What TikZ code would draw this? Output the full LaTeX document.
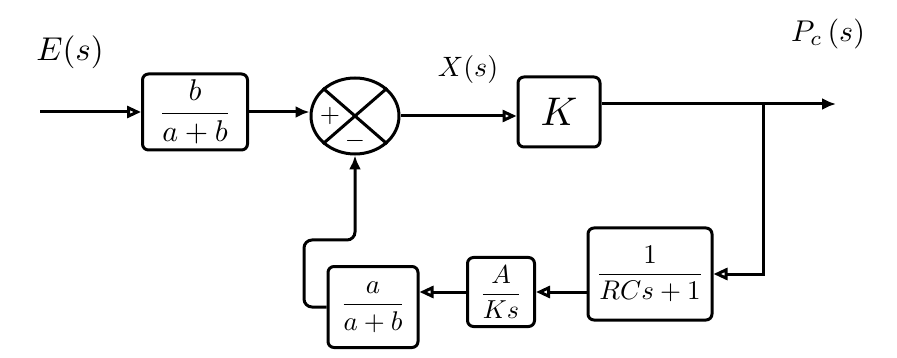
\documentclass[tikz,border=0pt]{standalone}
\usepackage{graphicx}
\usetikzlibrary{shapes.geometric,arrows.meta}
\newcommand{\bigtx}[2]{\scalebox{#1}{#2}}
\begin{document}
\begin{tikzpicture}[x=1pt,y=-1pt, line width=3pt,
  blockbox/.style={draw, rounded corners=6pt, inner sep=0pt},
  oarrow/.style={-{Triangle[open,length=14pt,width=12pt]}},
  farrow/.style={-{Latex[length=14pt,width=12pt]}}]
\useasboundingbox (0,0) rectangle (897,358);
% blocks
\node[blockbox, minimum width=105pt, minimum height=76pt] (g1) at (195,112) {\bigtx{3.0}{$\displaystyle\frac{b}{a+b}$}};
\node[draw, ellipse, minimum width=88pt, minimum height=76pt, inner sep=0pt] (sum) at (355,116) {};
\draw (sum.north west) -- (sum.south east);
\draw (sum.north east) -- (sum.south west);
\node (plus) at (330,116) {\bigtx{2.6}{$+$}};
\node (minus) at (355,141) {\bigtx{2.6}{$-$}};
\node[blockbox, minimum width=82pt, minimum height=70pt] (k) at (559,112) {\bigtx{4}{$K$}};
\node[blockbox, minimum width=124pt, minimum height=92pt] (g4) at (650,274) {\bigtx{2.7}{$\displaystyle\frac{1}{RCs+1}$}};
\node[blockbox, minimum width=67pt, minimum height=69pt] (g3) at (501,292) {\bigtx{2.6}{$\displaystyle\frac{A}{Ks}$}};
\node[blockbox, minimum width=90pt, minimum height=81pt] (g2) at (373,307) {\bigtx{2.7}{$\displaystyle\frac{a}{a+b}$}};
% coordinates
\coordinate (in) at (40,112);
\coordinate (br) at (763,104);
\coordinate (out) at (836,104);
\coordinate (fb) at (304,240);
% connectors
\draw[oarrow] (in) -- (g1.west);
\draw[farrow] (g1.east) -- (g1.east -| sum.west);
\draw[oarrow] (sum.east) -- (sum.east -| k.west);
\draw[farrow] (k.east |- br) -- (out);
\draw[oarrow] (br) |- (g4.east);
\draw[oarrow] (g4.west |- g3.east) -- (g3.east);
\draw[oarrow] (g3.west) -- (g3.west -| g2.east);
\draw[farrow, rounded corners=8pt] (g2.west) -| (fb) -| (sum.south);
% labels
\node (es) at (70,52) {\bigtx{3.3}{$E(s)$}};
\node (xs) at (468,70) {\bigtx{2.8}{$X(s)$}};
\node (pc) at (828,34) {\bigtx{3.0}{$P_c\,(s)$}};
\end{tikzpicture}
\end{document}
